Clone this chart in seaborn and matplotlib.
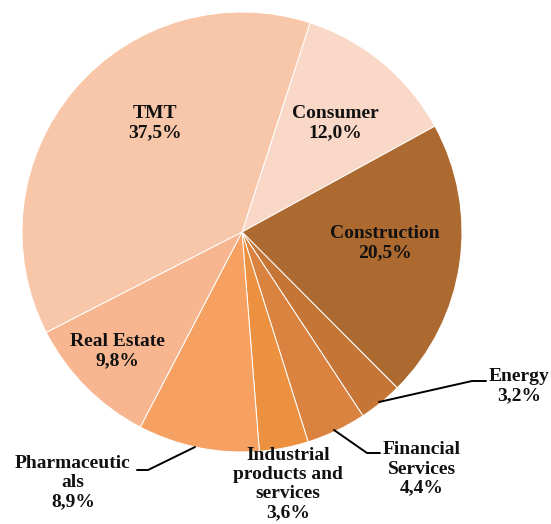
import matplotlib
matplotlib.use("Agg")
import matplotlib.pyplot as plt
import seaborn as sns

# Data
sectors = ["Consumer", "Construction", "Energy", "Financial\nServices",
           "Industrial\nproducts and\nservices", "Pharmaceutic\nals",
           "Real Estate", "TMT"]
shares = [12.0, 20.5, 3.2, 4.4, 3.6, 8.9, 9.8, 37.5]
colors = ["#FAD8C8", "#AD6A30", "#C57636", "#DA8340",
          "#EC9140", "#F6A062", "#F7B690", "#F8C6A8"]

# label centres in pixel coords of the 551x524 picture
label_px = [(335, 123), (385, 243), (519, 386), (422, 469),
            (288, 484), (73, 483), (117, 351), (155, 123)]
# leader lines (pixel coords) for the small slices
leaders = {
    2: [(379, 402), (472, 381), (486, 381)],
    3: [(334, 430), (367, 453), (380, 453)],
    5: [(195, 447), (148, 470), (137, 470)],
}

CX, CY, R = 242, 232, 220
W, H = 551, 524


def to_data(p):
    return ((p[0] - CX) / R, (CY - p[1]) / R)


sns.set_theme(style="white")
plt.rcParams["font.family"] = ["Liberation Serif", "DejaVu Serif"]

fig = plt.figure(figsize=(W / 100, H / 100), dpi=100)
ax = fig.add_axes([0, 0, 1, 1])

ax.pie(shares, colors=colors, startangle=72, counterclock=False, radius=1,
       wedgeprops=dict(edgecolor="white", linewidth=0.7))

for i, (name, val) in enumerate(zip(sectors, shares)):
    x, y = to_data(label_px[i])
    txt = f"{name}\n{val:.1f}%".replace(".", ",")
    ax.text(x, y, txt, ha="center", va="center", fontsize=14,
            fontweight="bold", color="#111111", linespacing=1.16)

for i, pts in leaders.items():
    xs, ys = zip(*[to_data(p) for p in pts])
    ax.plot(xs, ys, color="black", lw=1.4)

ax.set_xlim(-CX / R, (W - CX) / R)
ax.set_ylim(-(H - CY) / R, CY / R)
ax.set_aspect("equal")
ax.axis("off")

fig.savefig("out.png", dpi=100)
